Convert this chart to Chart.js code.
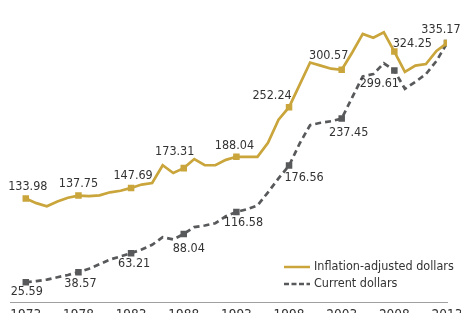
<!DOCTYPE html>
<html>
<head>
<meta charset="utf-8">
<script src="https://cdn.jsdelivr.net/npm/chart.js@4/dist/chart.umd.min.js"></script>
<style>
  html, body { margin: 0; padding: 0; background: #fff; overflow: hidden; }
  #wrap { width: 461px; height: 330px; }
</style>
</head>
<body>
<div id="wrap"><canvas id="grafico" width="461" height="330"></canvas></div>
<script>
// years on the x axis
const anos = [1973, 1974, 1975, 1976, 1977, 1978, 1979, 1980, 1981, 1982,
              1983, 1984, 1985, 1986, 1987, 1988, 1989, 1990, 1991, 1992,
              1993, 1994, 1995, 1996, 1997, 1998, 1999, 2000, 2001, 2002,
              2003, 2004, 2005, 2006, 2007, 2008, 2009, 2010, 2011, 2012, 2013];

const ajustado = [133.98, 128, 124, 130, 135, 137.75, 137, 138, 142, 144,
                  147.69, 152, 154, 177, 167, 173.31, 185, 177, 177, 184,
                  188.04, 188, 188, 206, 236, 252.24, 281, 310, 306, 302,
                  300.57, 323, 347, 342, 349, 324.25, 298, 306, 308, 325, 335.17];

const corrente = [25.59, 27, 29, 32, 35, 38.57, 43, 49, 55, 59,
                  63.21, 68, 74, 84, 81, 88.04, 97, 99, 102, 111,
                  116.58, 120, 125, 142, 160, 176.56, 205, 229, 232, 234,
                  237.45, 265, 292, 295, 309, 299.61, 276, 285, 295, 312, 335.17];

const anosTicks = [1973, 1978, 1983, 1988, 1993, 1998, 2003, 2008, 2013];

const nomes = ['Inflation-adjusted dollars', 'Current dollars'];

const corOuro = '#c9a53b';
const corCinza = '#58595b';
const fonte = "'Liberation Sans Narrow', 'DejaVu Sans Condensed', sans-serif";

// label offsets (dx, dy) for the marked points, index = position in anosTicks
const deslocOuro = [[2, -12], [0, -12], [2, -12], [-9, -16], [-2, -11], [-17, -11], [-13, -14], [18, -8], [-6, -13]];
const deslocCinza = [[1, 10], [2, 12], [3, 11], [5, 15], [7, 11], [15, 12], [7, 14], [-15, 13], null];

function pontos(valores){
    return anos.map((a, i) => ({x: a, y: valores[i]}));
}

function raioMarca(ctx){
    return anosTicks.includes(anos[ctx.dataIndex]) ? 4.6 : 0;
}

const pluginRotulos = {
    id: 'rotulos',
    afterDatasetsDraw(chart){
        const ctx = chart.ctx;
        const sx = chart.scales.x, sy = chart.scales.y;
        ctx.save();
        ctx.font = '12.5px ' + fonte;
        ctx.fillStyle = '#333';
        ctx.textAlign = 'center';
        ctx.textBaseline = 'middle';
        anosTicks.forEach((ano, k) => {
            const i = anos.indexOf(ano);
            const d1 = deslocOuro[k];
            if (d1) ctx.fillText(ajustado[i].toFixed(2), sx.getPixelForValue(ano) + d1[0], sy.getPixelForValue(ajustado[i]) + d1[1]);
            const d2 = deslocCinza[k];
            if (d2) ctx.fillText(corrente[i].toFixed(2), sx.getPixelForValue(ano) + d2[0], sy.getPixelForValue(corrente[i]) + d2[1]);
        });

        // legend
        const area = chart.chartArea;
        const lx = area.right - 163, ly = area.bottom - 35;
        ctx.textAlign = 'left';
        ctx.lineWidth = 2.5;
        ctx.strokeStyle = corOuro;
        ctx.beginPath(); ctx.moveTo(lx, ly); ctx.lineTo(lx + 26, ly); ctx.stroke();
        ctx.strokeStyle = corCinza;
        ctx.setLineDash([5, 2.5]);
        ctx.beginPath(); ctx.moveTo(lx, ly + 17); ctx.lineTo(lx + 26, ly + 17); ctx.stroke();
        ctx.setLineDash([]);
        ctx.fillText(nomes[0], lx + 30, ly);
        ctx.fillText(nomes[1], lx + 30, ly + 17);
        ctx.restore();
    }
};

function criaGrafico(){
    const canvas = document.getElementById('grafico');
    new Chart(canvas, {
        type: 'line',
        data: {
            datasets: [
                {
                    label: nomes[0],
                    data: pontos(ajustado),
                    borderColor: corOuro,
                    backgroundColor: corOuro,
                    borderWidth: 2.7,
                    pointStyle: 'rect',
                    pointRadius: raioMarca,
                    pointBorderWidth: 0,
                    tension: 0
                },
                {
                    label: nomes[1],
                    data: pontos(corrente),
                    borderColor: corCinza,
                    backgroundColor: corCinza,
                    borderWidth: 2.7,
                    borderDash: [6, 4],
                    pointStyle: 'rect',
                    pointRadius: raioMarca,
                    pointBorderWidth: 0,
                    tension: 0
                }
            ]
        },
        options: {
            responsive: false,
            animation: false,
            layout: { padding: { left: 10, right: 14, top: 0, bottom: 0 } },
            plugins: { legend: { display: false }, tooltip: { enabled: false } },
            scales: {
                x: {
                    type: 'linear',
                    min: 1971.5,
                    max: 2013,
                    afterBuildTicks: s => { s.ticks = anosTicks.map(v => ({value: v})); },
                    afterFit: s => { s.height = 28; s.paddingLeft = 0; s.paddingRight = 0; },
                    grid: { display: false, drawTicks: false },
                    border: { display: true, color: '#a0a0a0', width: 1 },
                    ticks: {
                        padding: 5,
                        autoSkip: false,
                        maxRotation: 0,
                        color: '#333',
                        font: { family: fonte, size: 13.5 },
                        callback: v => String(v)
                    }
                },
                y: {
                    display: false,
                    min: 0,
                    max: 385
                }
            }
        },
        plugins: [pluginRotulos]
    });
}

criaGrafico();
</script>
</body>
</html>
